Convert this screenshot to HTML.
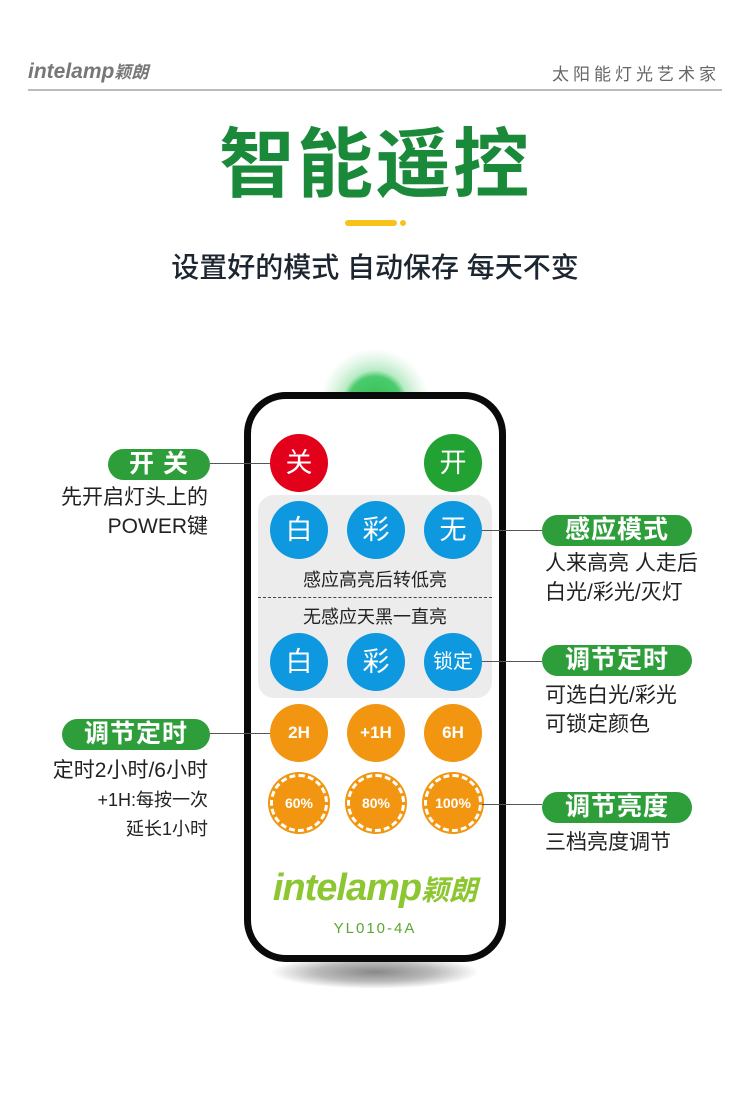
<!DOCTYPE html>
<html><head><meta charset="utf-8"><style>
*{margin:0;padding:0;box-sizing:border-box}
body{width:750px;height:1098px;background:#fff;position:relative;overflow:hidden;font-family:"Liberation Sans","Noto Sans CJK SC",sans-serif}
.a{position:absolute;white-space:nowrap}
.pill{position:absolute;height:31px;border-radius:16px;background:#2e9e3a;color:#fff;font-size:25px;font-weight:bold;text-align:center;line-height:31px;letter-spacing:1px}
.t{position:absolute;font-size:21px;color:#222;line-height:29px;white-space:nowrap}
.ln{position:absolute;height:1px;background:#555}
.b{position:absolute;width:58px;height:58px;border-radius:50%;color:#fff;text-align:center;line-height:58px;font-size:27px}
.bl{background:#0e98e0}
.or{background:#f29611;font-weight:bold;font-size:17px}
.or2{background:#f29611;font-weight:bold;font-size:14px;border:3px dashed #fff;box-shadow:0 0 0 2px #f29611;line-height:52px}
</style></head><body>
<div class="a" style="left:28px;top:58px;font-size:21px;font-weight:bold;font-style:italic;color:#777">intelamp<span style="font-size:17px">颖朗</span></div>
<div class="a" style="right:30px;top:60px;font-size:17px;color:#666;letter-spacing:4px">太阳能灯光艺术家</div>
<div class="a" style="left:28px;top:89px;width:694px;height:2px;background:#b8bcc0"></div>
<div class="a" style="left:0;width:750px;top:118px;text-align:center;font-size:76px;font-weight:bold;color:#1a8a3a;line-height:95px;letter-spacing:2px">智能遥控</div>
<div class="a" style="left:345px;top:220px;width:52px;height:6px;border-radius:3px;background:#f7c21a"></div>
<div class="a" style="left:400px;top:220px;width:6px;height:6px;border-radius:3px;background:#f7c21a"></div>
<div class="a" style="left:0;width:750px;top:248px;text-align:center;font-size:28px;font-weight:500;color:#1c2630;line-height:40px">设置好的模式 自动保存 每天不变</div>

<div class="a" style="left:320px;top:348px;width:110px;height:110px;border-radius:50%;background:radial-gradient(circle,#2fbf55 0,#4ccb6c 34%,#b8ebc5 42%,#dff5e5 55%,rgba(255,255,255,0) 70%)"></div>
<div class="a" style="left:270px;top:955px;width:210px;height:34px;border-radius:50%;background:radial-gradient(ellipse,#888 0,#bbb 40%,rgba(255,255,255,0) 70%)"></div>
<div class="a" style="left:244px;top:392px;width:262px;height:570px;border:7px solid #0a0a0a;border-radius:42px;background:#fff"></div>
<div class="a" style="left:258px;top:495px;width:234px;height:203px;border-radius:16px;background:#ececec"></div>
<div class="a" style="left:258px;top:597px;width:234px;border-top:1px dashed #444"></div>
<div class="a" style="left:258px;width:234px;top:566px;text-align:center;font-size:18px;color:#222">感应高亮后转低亮</div>
<div class="a" style="left:258px;width:234px;top:603px;text-align:center;font-size:18px;color:#222">无感应天黑一直亮</div>

<div class="b" style="left:270px;top:434px;background:#e2001a">关</div>
<div class="b" style="left:424px;top:434px;background:#22a233">开</div>
<div class="b bl" style="left:270px;top:501px">白</div>
<div class="b bl" style="left:347px;top:501px">彩</div>
<div class="b bl" style="left:424px;top:501px">无</div>
<div class="b bl" style="left:270px;top:633px">白</div>
<div class="b bl" style="left:347px;top:633px">彩</div>
<div class="b bl" style="left:424px;top:633px;font-size:20px">锁定</div>
<div class="b or" style="left:270px;top:704px">2H</div>
<div class="b or" style="left:347px;top:704px">+1H</div>
<div class="b or" style="left:424px;top:704px">6H</div>
<div class="b or2" style="left:270px;top:774px">60%</div>
<div class="b or2" style="left:347px;top:774px">80%</div>
<div class="b or2" style="left:424px;top:774px">100%</div>
<div class="a" style="left:258px;width:234px;top:864px;text-align:center;font-size:38px;font-weight:bold;font-style:italic;color:#8cc630;line-height:48px;letter-spacing:-1px">intelamp<span style="font-size:28px;letter-spacing:0">颖朗</span></div>
<div class="a" style="left:262px;width:226px;top:920px;text-align:center;font-size:15px;color:#5aa830;letter-spacing:2px">YL010-4A</div>

<div class="pill" style="left:108px;top:449px;width:102px">开 关</div>
<div class="ln" style="left:210px;top:463px;width:60px"></div>
<div class="t" style="right:542px;top:483px;text-align:right">先开启灯头上的<br>POWER键</div>

<div class="pill" style="left:542px;top:515px;width:150px">感应模式</div>
<div class="ln" style="left:482px;top:530px;width:60px"></div>
<div class="t" style="left:545px;top:549px">人来高亮 人走后<br>白光/彩光/灭灯</div>

<div class="pill" style="left:542px;top:645px;width:150px">调节定时</div>
<div class="ln" style="left:482px;top:661px;width:60px"></div>
<div class="t" style="left:545px;top:681px">可选白光/彩光<br>可锁定颜色</div>

<div class="pill" style="left:62px;top:719px;width:148px">调节定时</div>
<div class="ln" style="left:210px;top:733px;width:60px"></div>
<div class="t" style="right:542px;top:756px;text-align:right">定时2小时/6小时<br><span style="font-size:18px;line-height:26px">+1H:每按一次</span><br><span style="font-size:18px;line-height:26px">延长1小时</span></div>

<div class="pill" style="left:542px;top:792px;width:150px">调节亮度</div>
<div class="ln" style="left:482px;top:804px;width:60px"></div>
<div class="t" style="left:545px;top:828px">三档亮度调节</div>
</body></html>
